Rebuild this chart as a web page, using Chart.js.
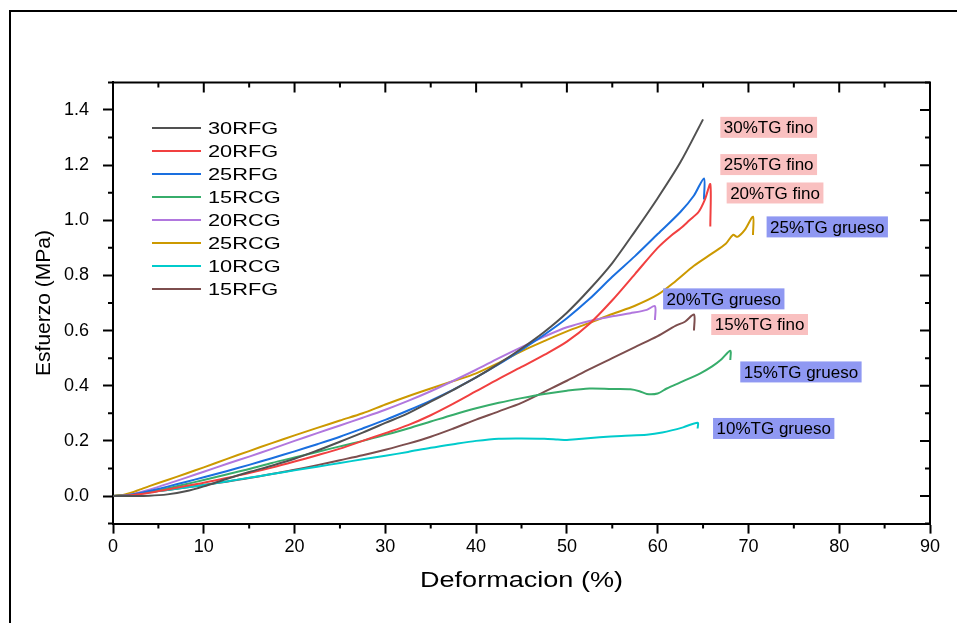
<!DOCTYPE html>
<html>
<head>
<meta charset="utf-8">
<script src="https://cdn.jsdelivr.net/npm/chart.js@4.4.0/dist/chart.umd.min.js"></script>
<style>
  html, body { margin: 0; padding: 0; background: #fff; }
  #wrap { width: 957px; height: 623px; position: relative; }
</style>
</head>
<body>
<div id="wrap"><canvas id="chart" width="957" height="623"></canvas></div>
<script>
// axis ticks
const xTicks = [0, 10, 20, 30, 40, 50, 60, 70, 80, 90];
const yTicks = [0, 0.2, 0.4, 0.6, 0.8, 1.0, 1.2, 1.4];

// series (Deformacion %, Esfuerzo MPa)
const x30RFG = [0,2,4,6,8,10,12.5,15,17.5,20,22.5,25,27.5,30,32.5,35,37.5,40,42.5,45,47.5,50,52.5,55,57.5,60,62.5,65];
const y30RFG = [0,0,0.001,0.006,0.017,0.035,0.062,0.087,0.11,0.135,0.165,0.197,0.23,0.265,0.3,0.342,0.385,0.43,0.48,0.535,0.595,0.665,0.75,0.845,0.96,1.08,1.21,1.366];

const x20RFG = [0,2,4,6,8,10,12.5,15,17.5,20,22.5,25,27.5,30,32.5,35,37.5,40,42.5,45,47.5,50,52.5,55,57.5,60,61.5,62.5,63.5,64.5,65.2,65.8,65.8];
const y20RFG = [0,0.003,0.012,0.024,0.036,0.048,0.065,0.083,0.103,0.125,0.148,0.172,0.2,0.228,0.257,0.293,0.335,0.38,0.425,0.468,0.512,0.56,0.625,0.71,0.805,0.9,0.945,0.97,1.0,1.03,1.075,1.131,0.977];

const x25RFG = [0,1,2,3,4,6,8,10,12.5,15,17.5,20,22.5,25,27.5,30,32.5,35,37.5,40,42.5,45,47.5,50,52.5,55,57.5,60,62.5,64,65.1,65.1];
const y25RFG = [0,0.001,0.005,0.011,0.018,0.034,0.051,0.068,0.09,0.113,0.137,0.162,0.188,0.215,0.245,0.276,0.31,0.346,0.386,0.43,0.478,0.53,0.585,0.645,0.715,0.795,0.87,0.95,1.03,1.09,1.152,1.075];

const x15RCG = [0,2,4,6,8,10,12.5,15,17.5,20,22.5,25,27.5,30,32.5,35,37.5,40,42.5,45,47.5,50,52.5,55,57,58,58.8,60,61,62.5,64.7,66,67,68,68];
const y15RCG = [0,0.004,0.015,0.028,0.043,0.058,0.078,0.098,0.12,0.14,0.16,0.18,0.2,0.222,0.245,0.27,0.295,0.318,0.338,0.355,0.37,0.382,0.39,0.388,0.387,0.38,0.37,0.372,0.39,0.412,0.445,0.47,0.495,0.527,0.493];

const x20RCG = [0,1,2,3,4,6,8,10,12.5,15,17.5,20,22.5,25,27.5,30,32.5,35,37.5,40,42.5,45,47.5,50,52.5,55,57,58.8,59.7,59.7];
const y20RCG = [0,0.001,0.006,0.014,0.023,0.044,0.066,0.088,0.116,0.143,0.171,0.2,0.228,0.256,0.284,0.313,0.345,0.38,0.418,0.458,0.5,0.54,0.578,0.612,0.635,0.652,0.663,0.675,0.689,0.638];

const x25RCG = [0,1,2,3,4,6,8,10,12.5,15,17.5,20,22.5,25,27.5,30,32.5,35,37.5,40,42.5,45,47.5,50,52.5,55,57.5,60,62,64,66,67.5,68.3,68.8,69.6,70.5,70.5];
const y25RCG = [0,0.003,0.012,0.024,0.036,0.058,0.081,0.104,0.134,0.163,0.192,0.22,0.247,0.274,0.3,0.332,0.362,0.39,0.417,0.445,0.483,0.525,0.562,0.597,0.628,0.66,0.69,0.73,0.78,0.835,0.88,0.915,0.947,0.94,0.965,1.013,0.947];

const x10RCG = [0,2,4,6,8,10,12.5,15,17.5,20,22.5,25,27.5,30,32.5,35,37.5,40,42.5,45,47.5,49,50,51,53.6,56,58.8,60.5,62.8,64.4,64.4];
const y10RCG = [0,0.006,0.014,0.022,0.031,0.04,0.053,0.066,0.08,0.093,0.106,0.12,0.133,0.146,0.16,0.175,0.188,0.2,0.208,0.209,0.208,0.205,0.203,0.206,0.213,0.218,0.222,0.23,0.249,0.266,0.245];

const x15RFG = [0,2,4,6,8,10,12.5,15,17.5,20,22.5,25,27.5,30,32.5,35,37.5,40,42.5,45,47.5,50,52.5,55,57.5,60,62,63,64,64];
const y15RFG = [0,0.006,0.014,0.022,0.031,0.04,0.052,0.065,0.08,0.095,0.112,0.13,0.148,0.168,0.19,0.215,0.245,0.277,0.307,0.338,0.378,0.418,0.46,0.5,0.54,0.58,0.618,0.632,0.658,0.6];

const seriesNames = ['30RFG', '20RFG', '25RFG', '15RCG', '20RCG', '25RCG', '10RCG', '15RFG'];
const seriesX = [x30RFG, x20RFG, x25RFG, x15RCG, x20RCG, x25RCG, x10RCG, x15RFG];
const seriesY = [y30RFG, y20RFG, y25RFG, y15RCG, y20RCG, y25RCG, y10RCG, y15RFG];
const seriesColors = ['#515151', '#F14040', '#1A6FDF', '#37AD6B', '#B177DE', '#CC9900', '#00CBCC', '#7D4E4E'];

// labels next to the curve ends
const noteText = ['30%TG fino', '25%TG fino', '20%TG fino', '25%TG grueso', '20%TG grueso', '15%TG fino', '15%TG grueso', '10%TG grueso'];
const noteX = [66.9, 66.9, 67.6, 72.0, 60.6, 65.9, 69.1, 66.1];
const noteY = [1.337, 1.202, 1.099, 0.976, 0.715, 0.622, 0.450, 0.245];
const noteKind = ['fino', 'fino', 'fino', 'grueso', 'grueso', 'fino', 'grueso', 'grueso'];

const xTitle = 'Deformacion (%)';
const FONT = '"Liberation Sans", Arial, sans-serif';

const datasets = seriesNames.map((name, i) => ({
  label: name,
  data: seriesX[i].map((x, k) => ({x, y: seriesY[i][k]})),
  borderColor: seriesColors[i],
  backgroundColor: seriesColors[i],
  borderWidth: 2,
  pointRadius: 0,
  tension: 0.3,
  fill: false,
}));

// frame, mirrored/minor ticks, legend, notes, x title
const extras = {
  id: 'extras',
  afterDraw(chart){
    const ctx = chart.ctx;
    const xs = chart.scales.x, ys = chart.scales.y;
    const a = chart.chartArea;
    ctx.save();
    ctx.strokeStyle = '#000';
    ctx.lineWidth = 2;
    // page frame
    ctx.beginPath();
    ctx.moveTo(10, 623); ctx.lineTo(10, 11); ctx.lineTo(957, 11);
    ctx.stroke();
    // top and right axis lines
    ctx.beginPath();
    ctx.moveTo(a.left, a.top); ctx.lineTo(a.right, a.top); ctx.lineTo(a.right, a.bottom);
    ctx.stroke();
    // ticks
    ctx.beginPath();
    for(let v = 0; v <= 90; v += 5){
      const px = xs.getPixelForValue(v);
      const major = v % 10 === 0;
      if(!major){ ctx.moveTo(px, a.bottom); ctx.lineTo(px, a.bottom + 5); }
      ctx.moveTo(px, a.top); ctx.lineTo(px, a.top + (major ? 10 : 5));
    }
    for(let k = -1; k <= 15; k++){
      const v = k / 10;
      const py = ys.getPixelForValue(v);
      const major = k >= 0 && k % 2 === 0;
      if(!major){ ctx.moveTo(a.left, py); ctx.lineTo(a.left - 5, py); }
      ctx.moveTo(a.right, py); ctx.lineTo(a.right - (major ? 10 : 5), py);
    }
    ctx.stroke();

    // x axis title (stretched like the source figure)
    ctx.save();
    ctx.translate((a.left + a.right) / 2, 581);
    ctx.scale(1.23, 1);
    ctx.fillStyle = '#000';
    ctx.font = '22px ' + FONT;
    ctx.textAlign = 'center';
    ctx.textBaseline = 'middle';
    ctx.fillText(xTitle, 0, 0);
    ctx.restore();

    // legend
    chart.data.datasets.forEach((ds, i) => {
      const y = 128 + i * 23;
      ctx.strokeStyle = ds.borderColor;
      ctx.lineWidth = 2;
      ctx.beginPath(); ctx.moveTo(152, y); ctx.lineTo(201, y); ctx.stroke();
      ctx.save();
      ctx.translate(208, y + 1);
      ctx.scale(1.28, 1);
      ctx.fillStyle = '#000';
      ctx.font = '17px ' + FONT;
      ctx.textBaseline = 'middle';
      ctx.fillText(ds.label, 0, 0);
      ctx.restore();
    });

    // notes
    ctx.font = '17px ' + FONT;
    ctx.textBaseline = 'middle';
    noteText.forEach((t, i) => {
      const px = xs.getPixelForValue(noteX[i]);
      const py = ys.getPixelForValue(noteY[i]);
      const w = ctx.measureText(t).width;
      ctx.fillStyle = noteKind[i] === 'fino' ? '#F9C0C0' : '#8F98F2';
      ctx.fillRect(px, py - 10.5, w + 7, 21);
      ctx.fillStyle = '#000';
      ctx.fillText(t, px + 3.5, py + 1);
    });
    ctx.restore();
  }
};

new Chart(document.getElementById('chart'), {
  type: 'line',
  data: { datasets },
  plugins: [extras],
  options: {
    responsive: false,
    animation: false,
    devicePixelRatio: 1,
    layout: { padding: { left: 0, top: 82.4, right: 27, bottom: 0 } },
    plugins: { legend: { display: false }, tooltip: { enabled: false } },
    scales: {
      x: {
        type: 'linear', min: 0, max: 90,
        afterBuildTicks: s => { s.ticks = xTicks.map(v => ({value: v})); },
        afterFit: s => { s.height = 99.4; },
        ticks: { color: '#000', font: { family: FONT, size: 18 }, padding: 3, maxRotation: 0, autoSkip: false },
        grid: { drawOnChartArea: false, drawTicks: true, tickLength: 10, tickColor: '#000', tickWidth: 2 },
        border: { display: true, color: '#000', width: 2 },
        title: { display: false }
      },
      y: {
        type: 'linear', min: -0.1, max: 1.5,
        afterBuildTicks: s => { s.ticks = yTicks.map(v => ({value: v})); },
        afterFit: s => { s.width = 113; },
        ticks: { color: '#000', font: { family: FONT, size: 18 }, padding: 14, callback: v => v.toFixed(1) },
        grid: { drawOnChartArea: false, drawTicks: true, tickLength: 10, tickColor: '#000', tickWidth: 2 },
        border: { display: true, color: '#000', width: 2 },
        title: { display: true, text: 'Esfuerzo (MPa)', color: '#000', font: { family: FONT, size: 21 }, padding: { top: 32, bottom: 0 } }
      }
    }
  }
});
</script>
</body>
</html>
